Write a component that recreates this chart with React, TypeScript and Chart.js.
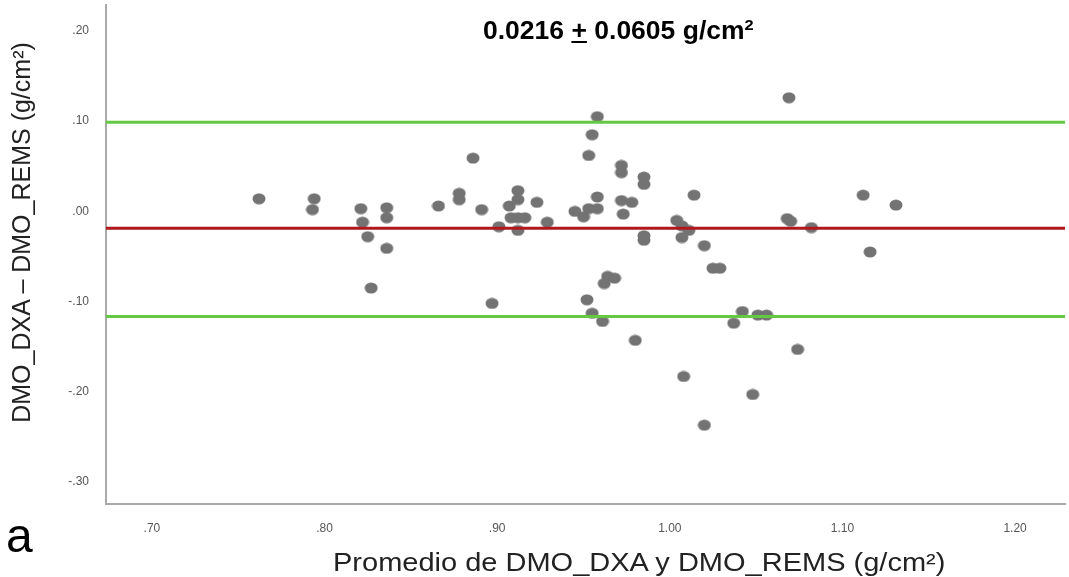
import React, { useEffect, useRef } from "react";
import { Chart, registerables } from "chart.js";

Chart.register(...registerables);

// Mean of the two methods (g/cm²)
const meanX = [
  0.762, 0.794, 0.793, 0.821, 0.822, 0.825, 0.827, 0.836, 0.836, 0.836,
  0.866, 0.878, 0.878, 0.886, 0.891, 0.901, 0.907, 0.912, 0.912, 0.908,
  0.912, 0.916, 0.912, 0.923, 0.929, 0.897, 0.945, 0.950, 0.953, 0.958,
  0.958, 0.953, 0.955, 0.958, 0.972, 0.972, 0.972, 0.978, 0.973, 0.985,
  0.985, 0.985, 0.985, 1.014, 1.004, 1.007, 1.011, 1.007, 1.020, 0.952,
  0.955, 0.961, 0.964, 0.968, 0.962, 0.980, 1.008, 1.020, 1.025, 1.029,
  1.042, 1.051, 1.056, 1.037, 1.074, 1.048, 1.069, 1.112, 1.131, 1.068,
  1.070, 1.082, 1.116,
];
// Difference DXA − REMS (g/cm²)
const diffY = [
  0.014, 0.014, 0.002, 0.003, -0.012, -0.028, -0.085, 0.004, -0.007, -0.041,
  0.006, 0.020, 0.013, 0.059, 0.002, -0.017, 0.006, 0.023, 0.013, -0.007,
  -0.007, -0.007, -0.021, 0.010, -0.012, -0.102, 0.000, -0.006, 0.003, 0.003,
  0.016, 0.062, 0.085, 0.105, 0.051, 0.043, 0.012, 0.010, -0.003, 0.038,
  0.030, -0.027, -0.032, 0.018, -0.010, -0.016, -0.021, -0.029, -0.038, -0.098,
  -0.113, -0.122, -0.072, -0.074, -0.080, -0.143, -0.183, -0.237, -0.063, -0.063,
  -0.111, -0.115, -0.115, -0.124, -0.153, -0.203, 0.126, 0.018, 0.007, -0.008,
  -0.011, -0.018, -0.045,
];

const upperLimit = 0.0987;
const biasLine = -0.0188;
const lowerLimit = -0.1164;

const xTicks = [0.7, 0.8, 0.9, 1.0, 1.1, 1.2];
const yTicks = [0.2, 0.1, 0.0, -0.1, -0.2, -0.3];
const xRange = [0.6734, 1.2289];
const yRange = [-0.3244, 0.2288];

const FONT = "'Liberation Sans', Arial, Helvetica, sans-serif";

function fmt(v: number): string {
  const a = Math.abs(v);
  let s = a.toFixed(2);
  if (a < 1) s = s.slice(1);
  return (v < -1e-9 ? "-" : "") + s;
}

function makeDot(): HTMLCanvasElement {
  const c = document.createElement("canvas");
  c.width = 14;
  c.height = 12;
  const g = c.getContext("2d")!;
  g.fillStyle = "#737373";
  g.beginPath();
  g.ellipse(7, 6, 6.5, 5.5, 0, 0, Math.PI * 2);
  g.fill();
  return c;
}

export default function App() {
  const ref = useRef<HTMLCanvasElement>(null);

  useEffect(() => {
    const dot = makeDot();
    const hline = (y: number, color: string, label: string) => ({
      label,
      data: [
        { x: xRange[0], y },
        { x: xRange[1], y },
      ],
      showLine: true,
      borderColor: color,
      backgroundColor: color,
      borderWidth: 3,
      pointRadius: 0,
      order: 0,
    });
    const chart = new Chart(ref.current!, {
      type: "scatter",
      data: {
        datasets: [
          hline(upperLimit, "#63c943", "upper"),
          hline(lowerLimit, "#63c943", "lower"),
          hline(biasLine, "#b0181c", "bias"),
          {
            label: "points",
            data: meanX.map((x, i) => ({ x, y: diffY[i] })),
            pointStyle: dot as any,
            pointRadius: 0.5,
            pointBorderWidth: 0,
            backgroundColor: "#737373",
            borderColor: "#737373",
            order: 1,
          },
        ],
      },
      options: {
        animation: false,
        responsive: false,
        layout: { padding: { left: 0, top: 5, right: 1, bottom: 0 } },
        plugins: {
          legend: { display: false },
          tooltip: { enabled: false },
          title: { display: false },
        },
        scales: {
          x: {
            type: "linear",
            min: xRange[0],
            max: xRange[1],
            afterFit: (s: any) => {
              s.height = 73;
              s.paddingLeft = 0;
              s.paddingRight = 0;
              s.paddingTop = 0;
              s.paddingBottom = 0;
            },
            afterBuildTicks: (s: any) => {
              s.ticks = xTicks.map((v) => ({ value: v }));
            },
            grid: { display: false },
            border: { display: true, color: "#a9a9a9", width: 2 },
            ticks: {
              font: { family: FONT, size: 12 },
              color: "#555",
              padding: 9,
              maxRotation: 0,
              autoSkip: false,
              callback: (v: any) => fmt(Number(v)),
            },
          },
          y: {
            type: "linear",
            min: yRange[0],
            max: yRange[1],
            afterFit: (s: any) => {
              s.width = 106;
              s.paddingLeft = 0;
              s.paddingRight = 0;
              s.paddingTop = 0;
              s.paddingBottom = 0;
            },
            afterBuildTicks: (s: any) => {
              s.ticks = yTicks.map((v) => ({ value: v }));
            },
            grid: { display: false },
            border: { display: true, color: "#a9a9a9", width: 2 },
            ticks: {
              font: { family: FONT, size: 12 },
              color: "#555",
              padding: 9,
              autoSkip: false,
              callback: (v: any) => fmt(Number(v)),
            },
          },
        },
      },
    } as any);
    return () => chart.destroy();
  }, []);

  return (
    <div
      style={{
        position: "fixed",
        left: 0,
        top: 0,
        width: 1069,
        height: 577,
        background: "#fff",
        fontFamily: FONT,
        overflow: "hidden",
      }}
    >
      <canvas ref={ref} width={1069} height={577} style={{ display: "block" }} />
      <div
        style={{
          position: "absolute",
          left: 483,
          top: 17,
          fontSize: 25,
          lineHeight: 1,
          fontWeight: "bold",
          color: "#000",
          whiteSpace: "nowrap",
          transform: "scaleX(1.06)",
          transformOrigin: "left center",
        }}
      >
        0.0216 <u>+</u> 0.0605 g/cm<sup style={{ fontSize: "0.62em", verticalAlign: "0.55em" }}>2</sup>
      </div>
      <div
        style={{
          position: "absolute",
          left: 21 - 220,
          top: 232 - 12.5,
          width: 440,
          height: 25,
          fontSize: 25,
          lineHeight: "25px",
          textAlign: "center",
          color: "#222",
          whiteSpace: "nowrap",
          transform: "rotate(-90deg)",
        }}
      >
        DMO_DXA – DMO_REMS (g/cm²)
      </div>
      <div
        style={{
          position: "absolute",
          left: 333,
          top: 550,
          fontSize: 25,
          lineHeight: 1,
          color: "#222",
          whiteSpace: "nowrap",
          transform: "scaleX(1.16)",
          transformOrigin: "left center",
        }}
      >
        Promedio de DMO_DXA y DMO_REMS (g/cm²)
      </div>
      <div
        style={{
          position: "absolute",
          left: 6,
          top: 512,
          fontSize: 48,
          lineHeight: 1,
          color: "#000",
        }}
      >
        a
      </div>
    </div>
  );
}
